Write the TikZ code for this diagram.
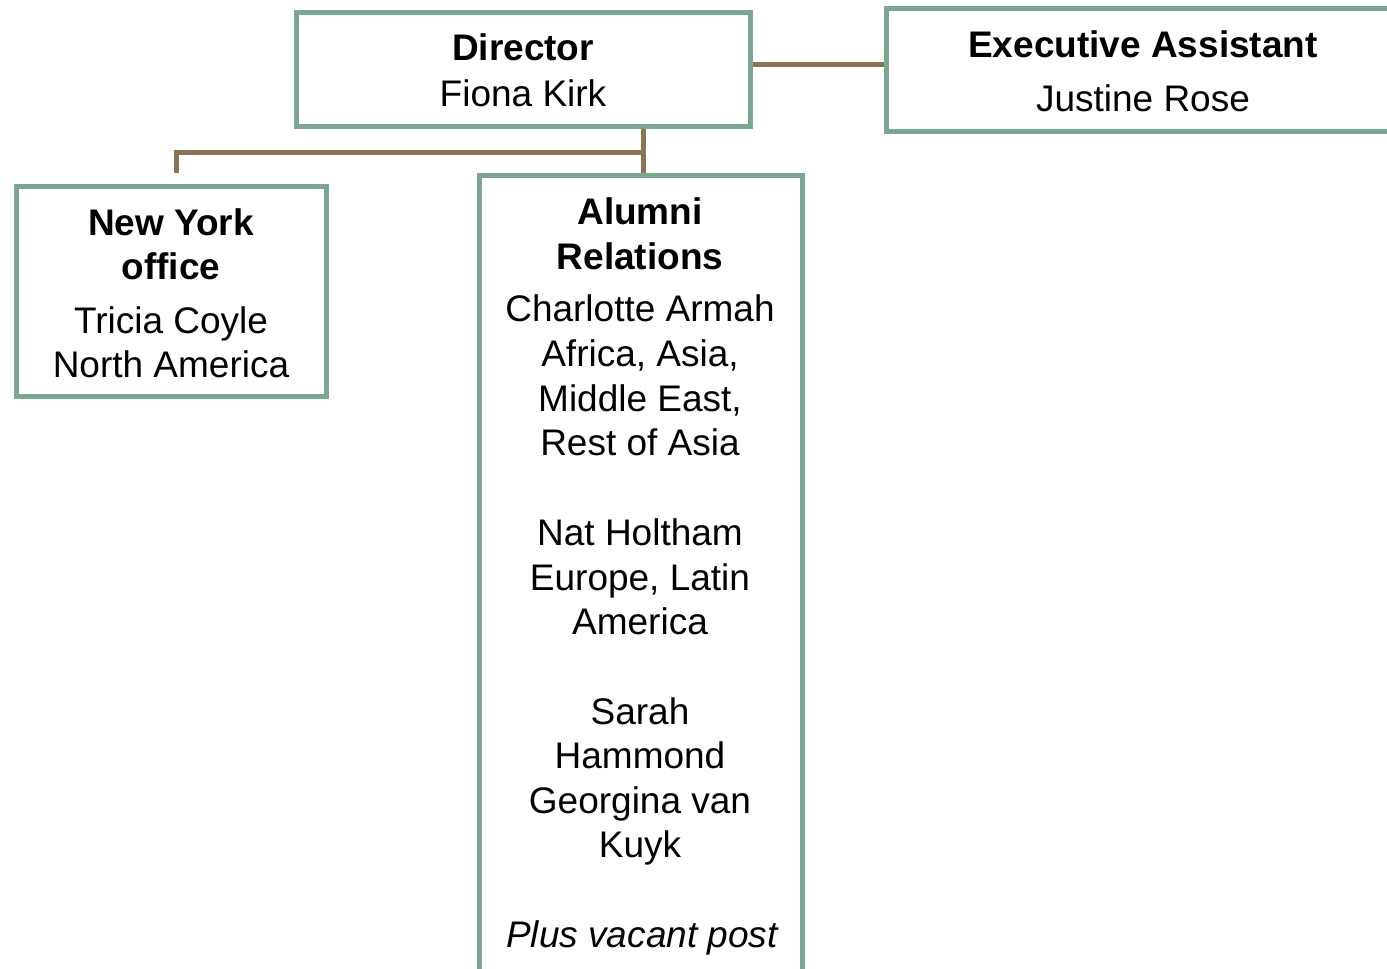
\documentclass[tikz,border=0pt]{standalone}
\usepackage{fontspec}
\setmainfont{Liberation Sans}
\definecolor{boxgreen}{RGB}{123,166,145}
\definecolor{linkbrown}{RGB}{140,116,82}
\begin{document}
\begin{tikzpicture}[x=0.5pt,y=0.5pt,
  orgbox/.style={draw=boxgreen,line width=2.5pt,rectangle,inner sep=0pt,fill=white},
  link/.style={draw=linkbrown,line width=2.5pt},
  txt/.style={inner sep=0pt,anchor=base,font=\fontsize{18.5pt}{22.5pt}\selectfont},
  btxt/.style={txt,font=\fontsize{18.5pt}{22.5pt}\selectfont\bfseries},
  itxt/.style={txt,font=\fontsize{18.5pt}{22.5pt}\selectfont\itshape}]
\useasboundingbox (0,0) rectangle (1387,-969);
\clip (0,0) rectangle (1387,-969);
% boxes
\node[orgbox,minimum width=227pt,minimum height=57pt] (director) at (523,-69) {};
\node[orgbox,minimum width=257pt,minimum height=61.5pt] (exec) at (1143,-69.5) {};
\node[orgbox,minimum width=155pt,minimum height=105pt] (ny) at (171,-291) {};
\node[orgbox,minimum width=161.5pt,minimum height=412.5pt] (alumni) at (640.5,-587.5) {};
% connectors
\coordinate (nyend) at ([xshift=2.5pt,yshift=5.25pt]ny.north);
\coordinate (altop) at ([xshift=1.25pt]alumni.north);
\draw[link] (director.east |- 0,-64) -- (exec.west |- 0,-64);
\draw[link] (director.south -| altop) -- (altop);
\draw[link] (altop |- 0,-152) -| (nyend);
% director text
\node[btxt] (d1) at (523,-61) {Director};
\node[txt] (d2) at (523,-106) {Fiona Kirk};
% exec text
\node[btxt] (e1) at (1143,-57) {Executive Assistant};
\node[txt] (e2) at (1143,-111) {Justine Rose};
% new york text
\node[btxt] (n1) at (171,-235) {New York};
\node[btxt] (n2) at (171,-279) {office};
\node[txt] (n3) at (171,-333) {Tricia Coyle};
\node[txt] (n4) at (171,-377) {North America};
% alumni text
\node[btxt] (a1) at (640,-224) {Alumni};
\node[btxt] (a2) at (640,-269) {Relations};
\node[txt] (a3) at (640,-321) {Charlotte Armah};
\node[txt] (a4) at (640,-366) {Africa, Asia,};
\node[txt] (a5) at (640,-411) {Middle East,};
\node[txt] (a6) at (640,-455) {Rest of Asia};
\node[txt] (a7) at (640,-545) {Nat Holtham};
\node[txt] (a8) at (640,-590) {Europe, Latin};
\node[txt] (a9) at (640,-634) {America};
\node[txt] (a10) at (640,-724) {Sarah};
\node[txt] (a11) at (640,-768) {Hammond};
\node[txt] (a12) at (640,-813) {Georgina van};
\node[txt] (a13) at (640,-857) {Kuyk};
\node[itxt] (a14) at (642,-947) {Plus vacant post};
\end{tikzpicture}
\end{document}
